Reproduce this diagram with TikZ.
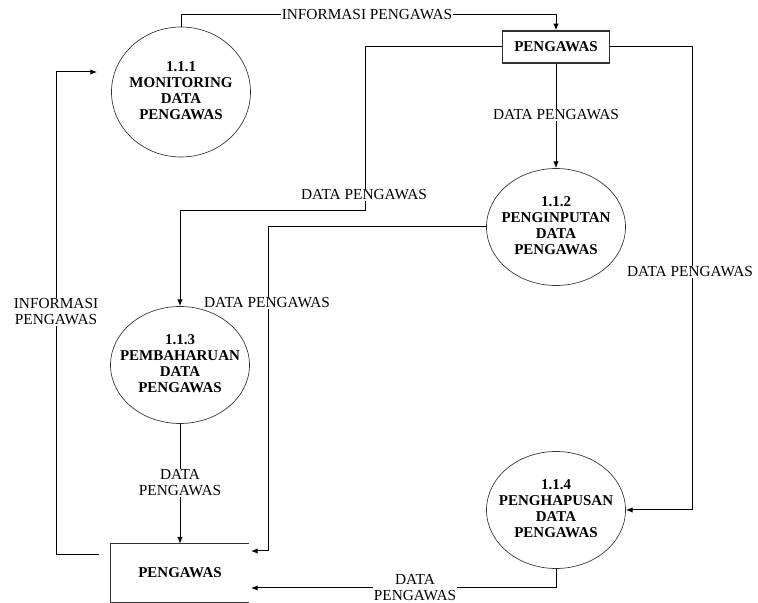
\documentclass[tikz,border=0pt]{standalone}
\usepackage{fontspec}
\setmainfont{Liberation Serif}
\usetikzlibrary{arrows.meta,positioning,shapes.geometric}

\newcommand{\proclbl}[1]{\makebox[0pt]{\begin{tabular}{@{}c@{}}#1\end{tabular}}}

\begin{document}
\begin{tikzpicture}[
  x=0.6pt, y=-0.6pt,
  proc/.style={draw=black!80, ellipse, inner sep=0pt, minimum width=83.4pt, minimum height=70.2pt, font=\fontsize{9}{9.6}\selectfont\bfseries},
  store/.style={draw=black!80, line width=0.8pt, minimum width=64.2pt, minimum height=19.2pt, inner sep=0pt, font=\fontsize{9}{10}\selectfont\bfseries},
  openstore/.style={minimum width=82.8pt, minimum height=34.8pt, inner sep=0pt, font=\fontsize{9}{10}\selectfont\bfseries},
  flow/.style={-{Latex[length=4pt,width=3.2pt]}, line width=0.6pt},
  lbl/.style={fill=white, inner sep=0.5pt, align=center, font=\fontsize{9.2}{9.6}\selectfont},
]
  \useasboundingbox (0,0) rectangle (758,603);

  % Processes
  \node[proc, minimum height=78pt] (p111) at (181,92) {\proclbl{1.1.1\\MONITORING\\DATA\\PENGAWAS}};
  \node[proc] (p112) at (556,227) {\proclbl{1.1.2\\PENGINPUTAN\\DATA\\PENGAWAS}};
  \node[proc] (p113) at (180,365) {\proclbl{1.1.3\\PEMBAHARUAN\\DATA\\PENGAWAS}};
  \node[proc] (p114) at (556,510) {\proclbl{1.1.4\\PENGHAPUSAN\\DATA\\PENGAWAS}};

  % Data stores
  \node[store] (ds1) at (556,47) {PENGAWAS};
  \node[openstore] (ds2) at (180,573) {PENGAWAS};
  \draw[draw=black!80, line width=0.8pt] (ds2.north east) -- (ds2.north west) -- (ds2.south west) -- (ds2.south east);

  % Bends and free ends
  \coordinate (top) at (181,15);
  \coordinate (b1) at (365,211);
  \coordinate (b2) at (692,510);
  \coordinate (b3) at (268,551);
  \coordinate (b4) at (56,72);
  \coordinate (in1) at (251,551);
  \coordinate (in2) at (251,588);
  \coordinate (in3) at (97,72);
  \coordinate (out1) at (99,555);

  % Flows
  \draw[flow] (p111.north) -- (top) -| (ds1.north);
  \draw[flow] (ds1.west) -| (b1) -| (p113.north);
  \draw[flow] (ds1.south) -- (p112.north);
  \draw[flow] (ds1.east) -| (b2) -- (p114.east);
  \draw[flow] (p112.west) -| (b3) -- (in1);
  \draw[flow] (p114.south) |- (in2);
  \draw[flow] (p113.south) -- (ds2.north);
  \draw[flow] (out1) -| (b4) -- (in3);

  % Flow labels
  \node[lbl] (l1) at (367,15) {INFORMASI PENGAWAS};
  \node[lbl] (l2) at (556,115) {DATA PENGAWAS};
  \node[lbl] (l3) at (364,195) {DATA PENGAWAS};
  \node[lbl] (l4) at (267,303) {DATA PENGAWAS};
  \node[lbl] (l5) at (690,272) {DATA PENGAWAS};
  \node[lbl] (l6) at (56,312) {INFORMASI\\PENGAWAS};
  \node[lbl] (l7) at (180,483) {DATA\\PENGAWAS};
  \node[lbl] (l8) at (415,588) {DATA\\PENGAWAS};
\end{tikzpicture}
\end{document}
